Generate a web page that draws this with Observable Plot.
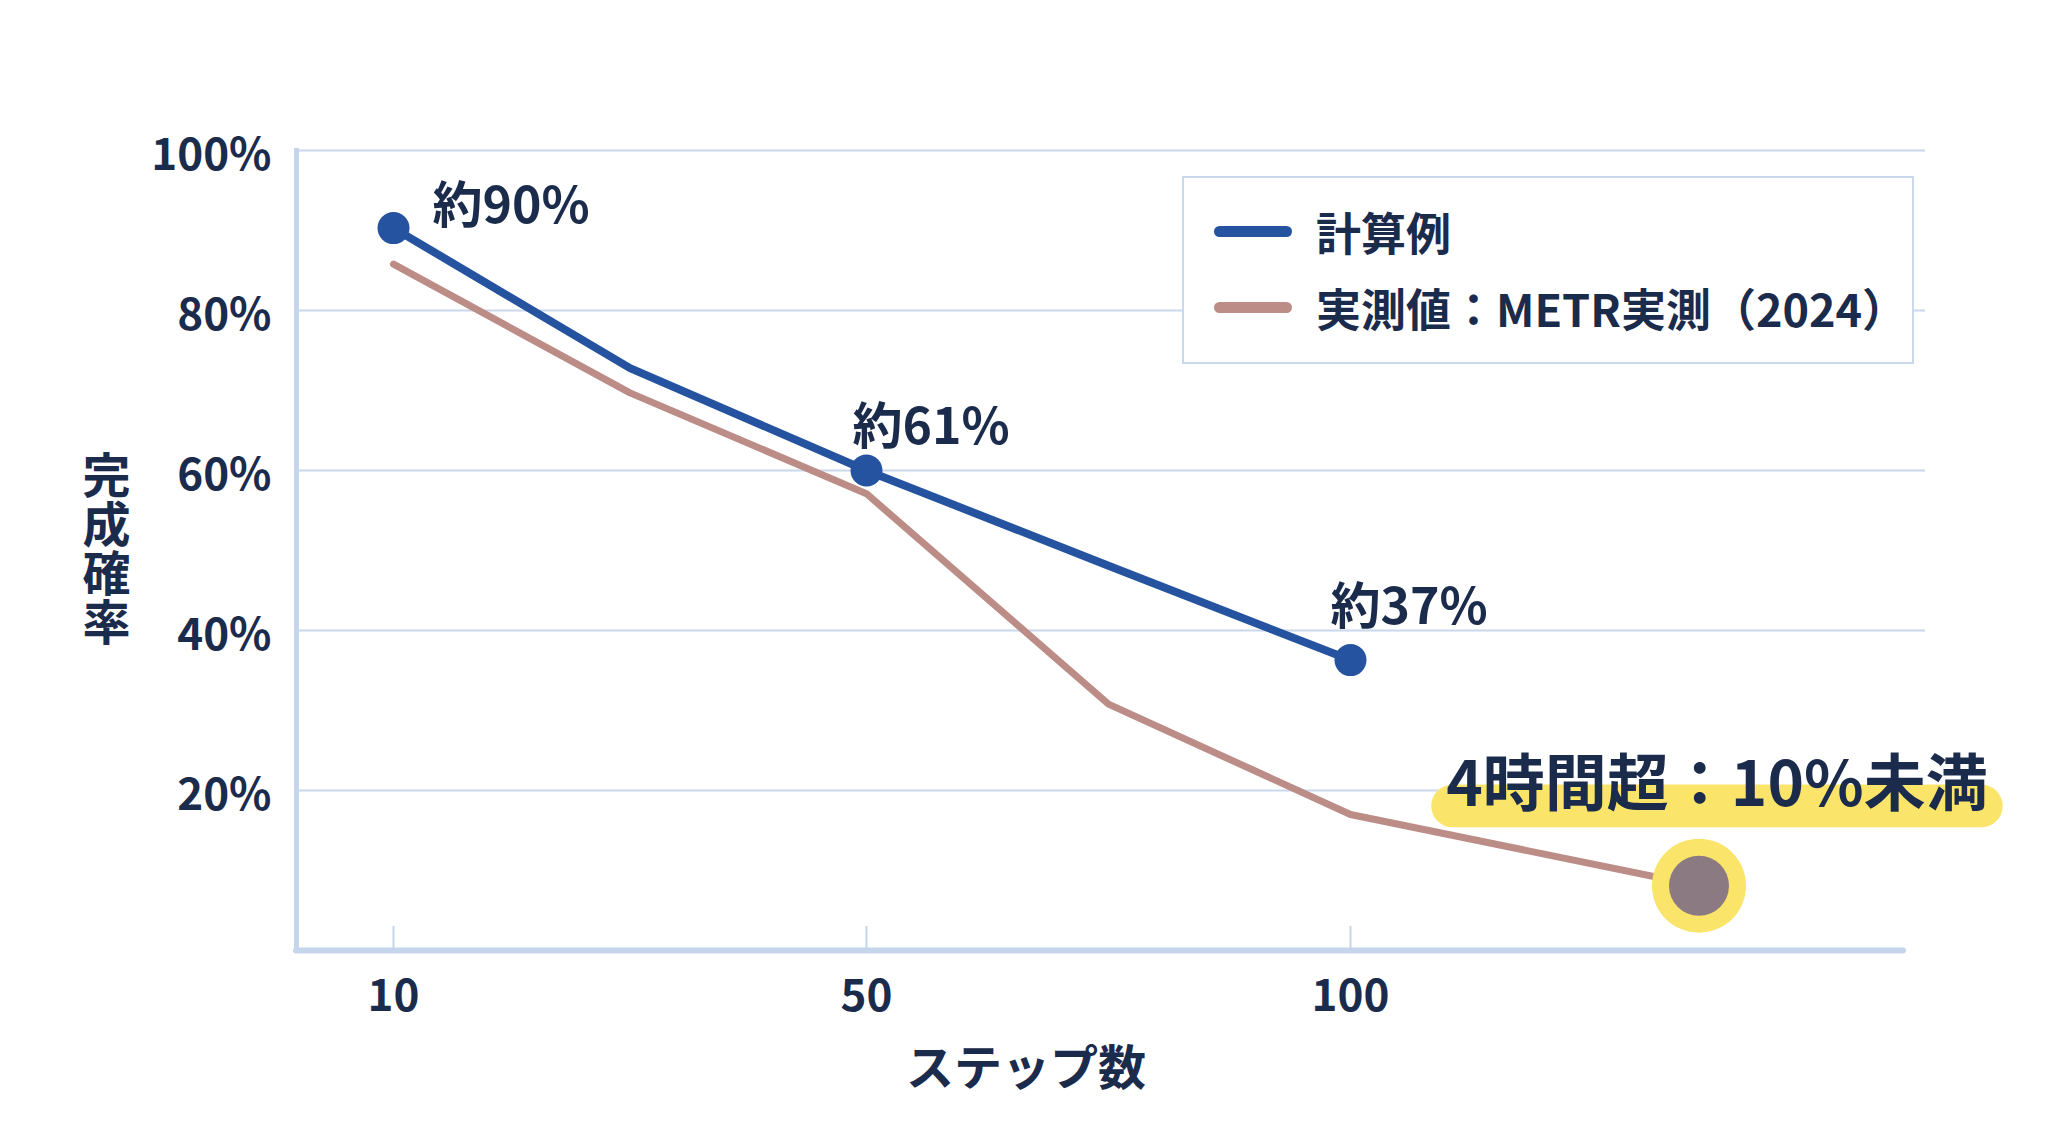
<!DOCTYPE html>
<html>
<head>
<meta charset="utf-8">
<script src="https://cdn.jsdelivr.net/npm/d3@7"></script>
<script src="https://cdn.jsdelivr.net/npm/@observablehq/plot@0.6"></script>
<style>
  html, body { margin: 0; padding: 0; background: #ffffff; }
  #wrap { position: relative; width: 2048px; height: 1143px; font-family: "Noto Sans CJK JP", "Noto Sans", sans-serif; color: #1b2b4c; }
  #legend { position: absolute; left: 1182px; top: 176px; width: 732px; height: 188px; box-sizing: border-box;
            border: 2px solid #c9d8ec; background: #ffffff; padding-top: 15px; padding-left: 30px; }
  .row { display: flex; align-items: center; height: 76px; font-size: 45px; font-weight: 700; white-space: nowrap; }
  .sw { width: 78px; height: 11px; border-radius: 6px; margin-right: 24px; }
</style>
</head>
<body>
<div id="wrap"><div id="legend"></div></div>
<script>
// ---- data ----
const calcSteps = [10, 30, 50, 75, 100];
const calcValues = [90.3, 72.8, 60, 48.1, 36.3];
const obsSteps = [10, 30, 50, 75, 100, 136];
const obsValues = [85.8, 69.7, 57.1, 30.8, 17.0, 8.1];
const xTicks = [10, 50, 100];
const yTicks = [20, 40, 60, 80, 100];
const seriesNames = ["計算例", "実測値：METR実測（2024）"];
const seriesColors = ["#2553a0", "#bc8c86"];
const calloutSteps = [10, 50, 100];
const calloutTexts = ["約90%", "約61%", "約37%"];
const noteText = "4時間超：10%未満";
const xLabel = "ステップ数";
const yLabel = "完成確率";

// ---- tables ----
const calcData = calcSteps.map((s, i) => ({step: s, p: calcValues[i]}));
const obsData = obsSteps.map((s, i) => ({step: s, p: obsValues[i]}));
const lastObs = obsData[obsData.length - 1];
const callouts = calloutSteps.map((s, i) => ({step: s, p: calcValues[calcSteps.indexOf(s)], text: calloutTexts[i]}));

const ink = "#1b2b4c";
const gridColor = "#c9d8ec";
const axisColor = "#c5d5ec";
const yellow = "#fbe46a";
const font = "'Noto Sans CJK JP', 'Noto Sans', sans-serif";
const noteSize = 62, noteDx = 18, noteDy = -100;
const yLabelSize = 48, yLabelSpacing = 1;

const calloutOffsets = [[39, -21], [-14, -43], [-20, -52]];

const chart = Plot.plot({
  width: 2048,
  height: 1143,
  marginLeft: 296,
  marginRight: 123,
  marginTop: 150,
  marginBottom: 193,
  style: {fontFamily: font, fontWeight: 700, color: ink, background: "transparent", overflow: "visible"},
  x: {type: "linear", domain: [10, 50, 100], range: [393, 866, 1350]},
  y: {domain: [0, 100]},
  marks: [
    Plot.gridY(yTicks, {stroke: gridColor, strokeOpacity: 1, strokeWidth: 2}),
    Plot.ruleX(xTicks, {y1: 0, y2: 3, stroke: axisColor, strokeWidth: 2}),
    Plot.frame({anchor: "left", stroke: axisColor, strokeWidth: 5}),
    Plot.ruleY([0], {stroke: axisColor, strokeWidth: 6, strokeLinecap: "round", insetRight: 22}),
    Plot.axisY({ticks: yTicks, tickFormat: d => d + "%", tickSize: 0, tickPadding: 25, dy: 5, fontSize: 44, label: null, fill: ink}),
    Plot.axisX({ticks: xTicks, tickFormat: d => String(d), tickSize: 0, tickPadding: 29, fontSize: 44, label: null, fill: ink}),
    Plot.text([yLabel], {frameAnchor: "left", text: d => d, dx: -190, fontSize: yLabelSize, fill: ink, fontWeight: 700}),
    Plot.text([xLabel], {frameAnchor: "bottom", text: d => d, dx: -85, dy: 134, fontSize: 48, fill: ink, fontWeight: 700}),
    Plot.line(obsData, {x: "step", y: "p", stroke: seriesColors[1], strokeWidth: 7, strokeLinecap: "round", strokeLinejoin: "round"}),
    Plot.line(calcData, {x: "step", y: "p", stroke: seriesColors[0], strokeWidth: 8, strokeLinecap: "round", strokeLinejoin: "round"}),
    Plot.dot(calcData.filter(d => calloutSteps.includes(d.step)), {x: "step", y: "p", r: 16, fill: seriesColors[0], stroke: "none"}),
    Plot.dot([lastObs], {x: "step", y: "p", r: 47, fill: yellow, stroke: "none"}),
    Plot.dot([lastObs], {x: "step", y: "p", r: 30, fill: "#8b7a82", stroke: "none"}),
    ...callouts.map((c, i) => Plot.text([c], {x: "step", y: "p", text: "text", textAnchor: "start", dx: calloutOffsets[i][0], dy: calloutOffsets[i][1], fontSize: 50, fill: ink, fontWeight: 700})),
    Plot.text([lastObs], {x: "step", y: "p", text: () => noteText, textAnchor: "middle", dx: noteDx, dy: noteDy, fontSize: noteSize, fill: ink, fontWeight: 700})
  ]
});

const wrap = document.getElementById("wrap");
wrap.insertBefore(chart, wrap.firstChild);
chart.style.position = "absolute";
chart.style.left = "0px";
chart.style.top = "0px";

const allTexts = Array.from(chart.querySelectorAll("text"));

// vertical y-axis label: shift up by half its length so it is centred on the frame's middle
const yText = allTexts.find(t => t.textContent === yLabel);
if (yText) {
  const len = yLabel.length * (yLabelSize + yLabelSpacing);
  yText.removeAttribute("dy");
  yText.setAttribute("text-anchor", "start");
  yText.style.writingMode = "vertical-rl";
  yText.style.textOrientation = "upright";
  yText.style.letterSpacing = yLabelSpacing + "px";
  const tr = yText.getAttribute("transform") || "";
  yText.setAttribute("transform", (tr + ` translate(0,${-(len / 2 + 17)})`).trim());
}

// highlighter band behind the note text (same local coordinates as the text)
const noteT = allTexts.find(t => t.textContent === noteText);
if (noteT) {
  const bb = noteT.getBBox();
  const baseline = bb.y + bb.height * (1.16 / 1.448);
  const bandTop = baseline - 0.34 * noteSize;
  const bandH = 0.69 * noteSize;
  const rect = document.createElementNS("http://www.w3.org/2000/svg", "rect");
  rect.setAttribute("x", bb.x - 15);
  rect.setAttribute("y", bandTop);
  rect.setAttribute("width", bb.width + 30);
  rect.setAttribute("height", bandH);
  rect.setAttribute("rx", bandH / 2);
  rect.setAttribute("fill", yellow);
  const tr = noteT.getAttribute("transform");
  if (tr) rect.setAttribute("transform", tr);
  noteT.parentNode.insertBefore(rect, noteT);
}

// legend
const legend = document.getElementById("legend");
seriesNames.forEach((name, i) => {
  const row = document.createElement("div");
  row.className = "row";
  const sw = document.createElement("div");
  sw.className = "sw";
  sw.style.background = seriesColors[i];
  const label = document.createElement("span");
  label.textContent = name;
  row.appendChild(sw);
  row.appendChild(label);
  legend.appendChild(row);
});
</script>
</body>
</html>
